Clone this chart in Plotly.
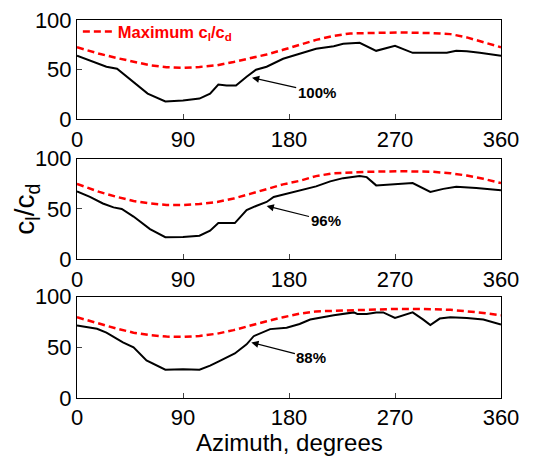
import plotly.graph_objects as go
from plotly.subplots import make_subplots

# Panel 1 (100%)
az1 = [0, 17, 25, 34, 48, 60, 75, 90, 104, 113, 120, 127, 135, 144, 152, 161, 175, 189, 203, 218, 226, 240, 254, 270, 285, 302, 314, 322, 331, 342, 360]
ld1 = [64, 56, 53, 51, 38, 26, 18, 19, 21, 26, 35, 34, 34, 43, 50, 53, 61, 66, 71, 73.6, 76, 77, 69, 74, 67, 67, 67, 69, 68.6, 67, 64]
azm1 = [0, 19, 34, 48, 62, 76, 90, 104, 119, 133, 147, 161, 175, 189, 203, 218, 232, 246, 274, 302, 317, 331, 345, 360]
mx1 = [72.6, 66, 61.7, 57.8, 54.5, 52.5, 51.8, 52.8, 54.5, 57.8, 61.7, 65.3, 70, 75, 80, 84, 86.5, 86.8, 87.5, 86.8, 85.8, 82.5, 78, 72.6]

# Panel 2 (96%)
az2 = [0, 11, 22, 31, 38, 48, 62, 75, 90, 104, 113, 120, 134, 144, 152, 161, 167, 181, 189, 203, 215, 226, 240, 246, 254, 270, 285, 300, 311, 322, 339, 360]
ld2 = [67.6, 62, 55.5, 51.6, 50, 42.5, 30, 22, 22.2, 23.5, 28.4, 36, 36, 49, 53, 57, 62, 66, 68.6, 72.5, 77.5, 80.7, 82.7, 81.7, 73.5, 75, 75.8, 67, 70, 72, 71, 68.6]
azm2 = [0, 19, 34, 48, 62, 76, 90, 104, 119, 133, 147, 161, 175, 189, 203, 218, 232, 246, 274, 302, 317, 331, 345, 360]
mx2 = [75, 67, 62, 58, 55.5, 54, 54, 55, 57, 60.5, 65, 70, 74.5, 78, 82.7, 85.6, 86.6, 87, 87.6, 87, 85.6, 83.3, 80, 75.8]

# Panel 3 (88%)
az3 = [0, 17, 25, 39, 48, 59, 75, 90, 104, 113, 120, 134, 144, 150, 164, 178, 189, 198, 218, 235, 238, 246, 254, 260, 270, 285, 294, 300, 308, 317, 331, 345, 360]
ld3 = [71.6, 68.4, 64.5, 55, 50, 37, 28, 28.4, 28, 32, 36, 44, 53, 61, 68, 69.4, 73, 77.4, 81.6, 84.5, 83, 83, 84.5, 84.5, 79, 84.5, 77.4, 72, 78.4, 79.7, 79, 77.4, 72.6]
azm3 = [0, 19, 34, 48, 62, 76, 90, 104, 119, 133, 147, 161, 175, 189, 203, 218, 232, 246, 274, 302, 317, 331, 345, 360]
mx3 = [79.7, 73, 68.4, 64.5, 62, 60.6, 60.3, 61.3, 63.5, 67, 71.6, 75.8, 79.7, 83.2, 85.5, 86, 87, 87.4, 88, 87.7, 87, 85.5, 84, 81.6]

labels = ["100%", "96%", "88%"]
arrow_heads = [(148.6, 42), (161, 53), (148, 54.8)]
label_pos = [(203.5, 27.4), (211, 38.5), (199, 39.7)]

xticks = [0, 90, 180, 270, 360]
yticks = [0, 50, 100]

FONT = "Liberation Sans, Arial, Helvetica, sans-serif"

fig = make_subplots(rows=3, cols=1)

panels = [(az1, ld1, azm1, mx1), (az2, ld2, azm2, mx2), (az3, ld3, azm3, mx3)]
for i, (az, ld, azm, mx) in enumerate(panels):
    r = i + 1
    fig.add_trace(go.Scatter(x=az, y=ld, mode="lines", line=dict(color="black", width=2),
                             showlegend=False), row=r, col=1)
    fig.add_trace(go.Scatter(x=azm, y=mx, mode="lines",
                             line=dict(color="#ff0000", width=2.5, dash="7px,4px"),
                             name="Maximum c<sub>l</sub>/c<sub>d</sub>", showlegend=(i == 0)),
                  row=r, col=1)

domains = [[0.737, 1.0], [0.367, 0.633], [0.0, 0.268]]
for i in range(3):
    xa = "xaxis" if i == 0 else f"xaxis{i+1}"
    ya = "yaxis" if i == 0 else f"yaxis{i+1}"
    fig.layout[xa].update(range=[0, 360], tickvals=xticks, ticks="inside", ticklen=5,
                          showline=True, mirror=True, linecolor="black", linewidth=1,
                          showgrid=False, zeroline=False, automargin=False,
                          ticklabeloverflow="allow",
                          tickfont=dict(family=FONT, size=22, color="black"))
    fig.layout[ya].update(range=[0, 100], tickvals=yticks, ticks="inside", ticklen=5,
                          showline=True, mirror=True, linecolor="black", linewidth=1,
                          showgrid=False, zeroline=False, domain=domains[i], automargin=False,
                          ticklabeloverflow="allow",
                          tickfont=dict(family=FONT, size=22, color="black"))

for i in range(3):
    xr = "x" if i == 0 else f"x{i+1}"
    yr = "y" if i == 0 else f"y{i+1}"
    hx, hy = arrow_heads[i]
    tx, ty = label_pos[i]
    fig.add_annotation(x=hx, y=hy, xref=xr, yref=yr, ax=tx, ay=ty, axref=xr, ayref=yr,
                       text="<b>" + labels[i] + "</b>", showarrow=True, arrowhead=2,
                       arrowsize=1.2, arrowwidth=1.2, arrowcolor="black",
                       font=dict(family=FONT, size=15, color="black"))

fig.add_annotation(x=-0.121, y=0.5, xref="paper", yref="paper", xanchor="center", yanchor="middle",
                   text="c<sub>l</sub>/c<sub>d</sub>", textangle=-90, showarrow=False,
                   font=dict(family=FONT, size=28, color="black"))
fig.add_annotation(x=0.5, y=-0.076, xref="paper", yref="paper", yanchor="top",
                   text="Azimuth, degrees", showarrow=False,
                   font=dict(family=FONT, size=24, color="black"))

fig.update_layout(
    template="none",
    width=533, height=448,
    margin=dict(l=69, r=40, t=6, b=58, pad=0),
    paper_bgcolor="white", plot_bgcolor="white",
    legend=dict(x=0.002, y=1.015, xanchor="left", yanchor="top", bgcolor="rgba(0,0,0,0)",
                font=dict(family=FONT, size=16.5, color="#ff0000", weight="bold"),
                tracegroupgap=0),
    showlegend=True,
)

fig.write_html("out.html")
